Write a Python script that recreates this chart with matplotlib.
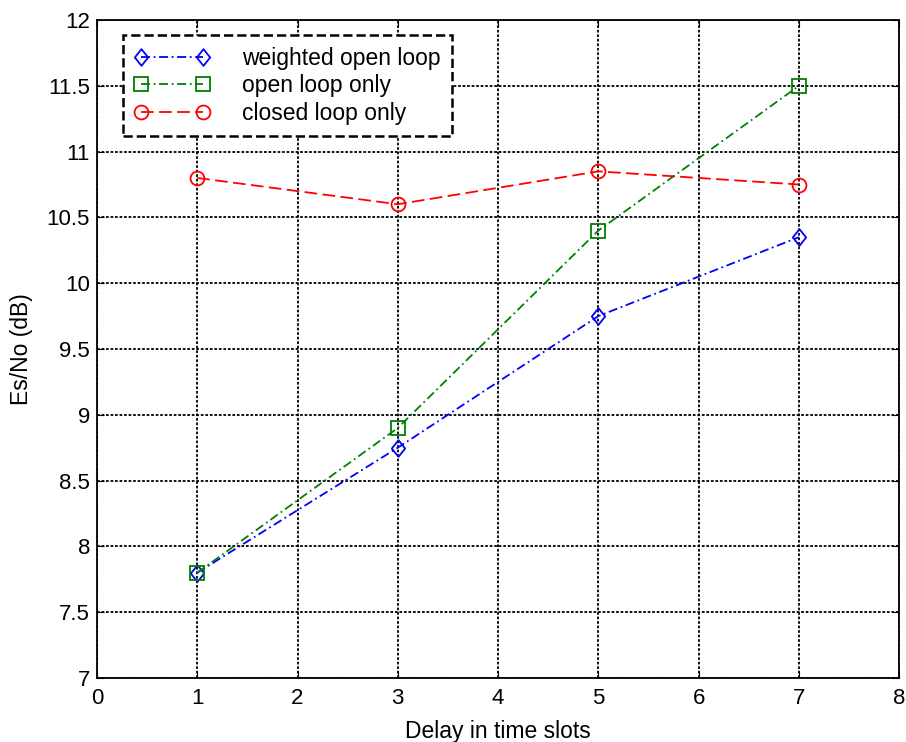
import matplotlib.pyplot as plt
import numpy as np
from matplotlib.path import Path

plt.rcParams['font.family'] = ['Liberation Sans', 'DejaVu Sans']

delays = [1, 3, 5, 7]
weighted_open = [7.8, 8.75, 9.75, 10.35]
open_only = [7.8, 8.9, 10.4, 11.5]
closed_only = [10.8, 10.6, 10.85, 10.75]

# diamond a bit narrower than tall, like the MATLAB one
diamond = Path([(0, 1), (0.8, 0), (0, -1), (-0.8, 0), (0, 1)],
               [Path.MOVETO, Path.LINETO, Path.LINETO, Path.LINETO, Path.CLOSEPOLY])

fig = plt.figure(figsize=(9.06, 7.42), dpi=100)
ax = fig.add_axes([0.107, 0.0863, 0.8855, 0.8867])

ax.plot(delays, weighted_open, color='blue', linestyle=(0, (5, 2, 1, 2)), linewidth=1.3,
        marker=diamond, markersize=12, markerfacecolor='none', markeredgewidth=1.3,
        label='weighted open loop')
ax.plot(delays, open_only, color='green', linestyle=(0, (5, 2, 1, 2)), linewidth=1.3,
        marker='s', markersize=10.5, markerfacecolor='none', markeredgewidth=1.3,
        label='open loop only')
ax.plot(delays, closed_only, color='red', linestyle=(0, (7, 3)), linewidth=1.3,
        marker='o', markersize=10, markerfacecolor='none', markeredgewidth=1.3,
        label='closed loop only')

ax.set_xlim(0, 8)
ax.set_ylim(7, 12)
ax.set_xticks(np.arange(0, 9, 1))
ax.set_yticks(np.arange(7, 12.01, 0.5))
ax.set_yticklabels(['7', '7.5', '8', '8.5', '9', '9.5', '10', '10.5', '11', '11.5', '12'])
ax.tick_params(direction='in', labelsize=16, length=5, top=True, right=True)
ax.tick_params(axis='x', pad=7)
ax.tick_params(axis='y', pad=5)
ax.grid(True, color='black', linestyle=(0, (1.5, 1)), linewidth=1.3)
for s in ax.spines.values():
    s.set_linewidth(1.3)

ax.set_xlabel('Delay in time slots', fontsize=16.5, labelpad=8)
ax.set_ylabel('Es/No (dB)', fontsize=16.5, labelpad=10)

leg = ax.legend(loc='upper left', bbox_to_anchor=(0.032, 0.977), fontsize=16.5,
                numpoints=2, handlelength=3.3, handletextpad=1.4, fancybox=False,
                borderpad=0.5, borderaxespad=0, labelspacing=0.2, framealpha=1)
leg.get_frame().set_edgecolor('black')
leg.get_frame().set_linestyle('--')
leg.get_frame().set_linewidth(1.8)

fig.savefig('out.png', dpi=100)
